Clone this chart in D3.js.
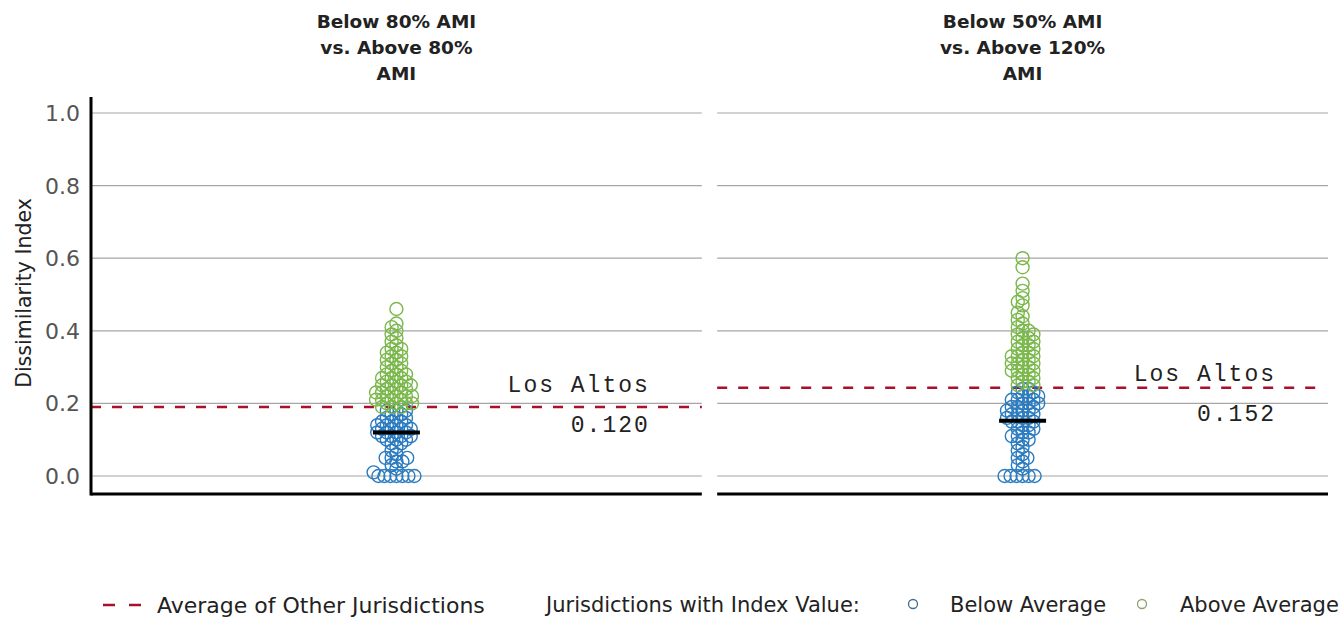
<!DOCTYPE html>
<html><head><meta charset="utf-8">
<script src="https://cdn.jsdelivr.net/npm/d3@7"></script>
<style>body{margin:0;background:#fff}svg{display:block}</style>
</head><body><svg id="c" width="1341" height="618"></svg>
<script>
// ---- data ----
const panelTitles = [
  ["Below 80% AMI", "vs. Above 80%", "AMI"],
  ["Below 50% AMI", "vs. Above 120%", "AMI"]
];
const valuesBelow80 = [0,0,0,0,0,0,0,
  0.01,0.02,0.03,0.04,0.04,0.05,0.05,0.05,0.06,0.07,0.08,0.09,0.09,0.10,0.10,0.10,0.11,0.11,0.11,0.11,0.12,0.12,0.12,0.12,0.13,0.13,0.13,0.13,0.14,0.14,0.14,0.14,0.15,0.15,0.15,0.16,0.16,0.16,0.17,0.17,0.18,0.18,0.18,
  0.19,0.19,0.19,0.20,0.20,0.20,0.20,0.21,0.21,0.21,0.21,0.22,0.22,0.22,0.22,0.23,0.23,0.23,0.23,0.24,0.24,0.24,0.25,0.25,0.25,0.25,0.26,0.26,0.26,0.27,0.27,0.27,0.28,0.28,0.28,0.29,0.29,0.30,0.30,0.31,0.31,0.32,0.32,0.33,0.33,0.34,0.34,0.35,0.35,0.36,0.37,0.38,0.39,0.40,0.41,0.42,0.46];
const valuesBelow50 = [0,0,0,0,0,0,
  0.02,0.03,0.04,0.05,0.05,0.06,0.07,0.08,0.09,0.10,0.10,0.11,0.11,0.12,0.12,0.13,0.13,0.14,0.14,0.15,0.15,0.15,0.16,0.16,0.16,0.17,0.17,0.17,0.18,0.18,0.18,0.19,0.19,0.19,0.20,0.20,0.20,0.21,0.21,0.21,0.22,0.22,0.22,0.23,0.23,0.24,0.24,
  0.25,0.25,0.26,0.26,0.27,0.27,0.28,0.28,0.29,0.29,0.29,0.30,0.30,0.31,0.31,0.31,0.32,0.32,0.33,0.33,0.33,0.34,0.34,0.35,0.35,0.36,0.36,0.37,0.37,0.38,0.38,0.39,0.39,0.40,0.40,0.41,0.42,0.43,0.44,0.45,0.47,0.48,0.49,0.51,0.53,0.575,0.60];
const seriesValues = [valuesBelow80, valuesBelow50];
const averages = [0.19, 0.243];
const losAltosValues = [0.120, 0.152];
const losAltosLabel = "Los Altos";
const yTicks = [0, 0.2, 0.4, 0.6, 0.8, 1.0];
const yLabel = "Dissimilarity Index";
const legendAvg = "Average of Other Jurisdictions";
const legendHead = "Jurisdictions with Index Value:";
const legendBelow = "Below Average";
const legendAbove = "Above Average";

// ---- style ----
const BLUE = "#2b7bbf", GREEN = "#7bb84c", RED = "#a8102c";
const sansFont = "'DejaVu Sans', Verdana, sans-serif";
const monoFont = "'Liberation Mono', 'Courier New', monospace";

const svg = d3.select("#c");
const y = d3.scaleLinear().domain([0, 1]).range([476, 113]);
const panelX = d3.scaleBand().domain([0, 1]).range([91, 1328]).paddingInner(0.0245);

// y axis label
svg.append("text").attr("transform", `translate(31,${293}) rotate(-90)`)
  .attr("text-anchor", "middle").attr("font-family", sansFont).attr("font-size", 20.5)
  .attr("fill", "#222").text(yLabel);

// y tick labels
svg.append("g").selectAll("text").data(yTicks).join("text")
  .attr("x", 80).attr("y", d => y(d)).attr("dy", "0.36em")
  .attr("text-anchor", "end").attr("font-family", sansFont).attr("font-size", 22)
  .attr("fill", "#555").text(d => d3.format(".1f")(d));

// beeswarm layout (deterministic)
function swarm(vals, cx, D) {
  const sorted = vals.map((v, i) => ({v, i})).sort((a, b) => a.v - b.v);
  const placed = [];
  for (const p of sorted) {
    const py = y(p.v);
    const near = placed.filter(q => Math.abs(q.y - py) < D);
    const cands = [0];
    for (const q of near) {
      const dx = Math.sqrt(D * D - (q.y - py) ** 2);
      cands.push(q.x - cx + dx + 0.01, q.x - cx - dx - 0.01);
    }
    cands.sort((a, b) => Math.abs(a) - Math.abs(b) || a - b);
    let best = 0;
    for (const c of cands) {
      const xx = cx + c;
      if (near.every(q => (q.x - xx) ** 2 + (q.y - py) ** 2 >= D * D - 0.02)) { best = c; break; }
    }
    placed.push({x: cx + best, y: py, v: p.v});
  }
  return placed;
}

seriesValues.forEach((vals, pi) => {
  const x0 = panelX(pi), x1 = x0 + panelX.bandwidth(), cx = (x0 + x1) / 2;
  const g = svg.append("g");
  // title
  g.append("text").attr("text-anchor", "middle").attr("font-family", sansFont)
    .attr("font-weight", "bold").attr("font-size", 18.5).attr("fill", "#222")
    .selectAll("tspan").data(panelTitles[pi]).join("tspan")
    .attr("x", cx).attr("y", (d, i) => 28 + i * 26).text(d => d);
  // gridlines
  g.selectAll("line.grid").data(yTicks).join("line").attr("class", "grid")
    .attr("x1", x0).attr("x2", x1).attr("y1", d => y(d)).attr("y2", d => y(d))
    .attr("stroke", "#a6a6a6").attr("stroke-width", 1.2);
  // average dashed line
  g.append("line").attr("x1", x0).attr("x2", x1 - (pi ? 6 : 0))
    .attr("y1", y(averages[pi])).attr("y2", y(averages[pi]))
    .attr("stroke", RED).attr("stroke-width", 2.5).attr("stroke-dasharray", "10,11");
  // points
  const pts = swarm(vals, cx, 6);
  g.selectAll("circle").data(pts).join("circle")
    .attr("cx", d => d.x).attr("cy", d => d.y).attr("r", 6.5)
    .attr("fill", "none").attr("stroke-width", 1.4)
    .attr("stroke", d => d.v < averages[pi] ? BLUE : GREEN);
  // Los Altos marker
  g.append("line").attr("x1", cx - 23.5).attr("x2", cx + 23.5)
    .attr("y1", y(losAltosValues[pi])).attr("y2", y(losAltosValues[pi]))
    .attr("stroke", "#000").attr("stroke-width", 4);
  // labels
  g.append("text").attr("x", x1 - 52).attr("y", y(losAltosValues[pi]) - 40)
    .attr("text-anchor", "end").attr("font-family", monoFont).attr("font-size", 23)
    .attr("letter-spacing", 2).attr("fill", "#222").text(losAltosLabel);
  g.append("text").attr("x", x1 - 52).attr("y", y(losAltosValues[pi]))
    .attr("text-anchor", "end").attr("font-family", monoFont).attr("font-size", 23)
    .attr("letter-spacing", 2).attr("fill", "#222").text(d3.format(".3f")(losAltosValues[pi]));
  // x axis line
  g.append("line").attr("x1", x0).attr("x2", x1).attr("y1", 494).attr("y2", 494)
    .attr("stroke", "#000").attr("stroke-width", 3);
});

// y axis line
svg.append("line").attr("x1", 91).attr("x2", 91).attr("y1", 97).attr("y2", 495.5)
  .attr("stroke", "#000").attr("stroke-width", 3);

// legend
const lg = svg.append("g").attr("font-family", sansFont).attr("font-size", 21).attr("fill", "#222");
lg.append("line").attr("x1", 103).attr("x2", 141).attr("y1", 605).attr("y2", 605)
  .attr("stroke", RED).attr("stroke-width", 2.5).attr("stroke-dasharray", "12,14");
lg.append("text").attr("x", 157).attr("y", 605).attr("dy", "0.35em").attr("font-size", 22).text(legendAvg);
lg.append("text").attr("x", 546).attr("y", 605).attr("dy", "0.35em").text(legendHead);
lg.append("circle").attr("cx", 913).attr("cy", 604).attr("r", 4.5).attr("fill", "none").attr("stroke", "#3b6f96").attr("stroke-width", 1.3);
lg.append("text").attr("x", 950).attr("y", 605).attr("dy", "0.35em").text(legendBelow);
lg.append("circle").attr("cx", 1142).attr("cy", 604).attr("r", 4.5).attr("fill", "none").attr("stroke", "#8aa56a").attr("stroke-width", 1.3);
lg.append("text").attr("x", 1180).attr("y", 605).attr("dy", "0.35em").text(legendAbove);
</script></body></html>
